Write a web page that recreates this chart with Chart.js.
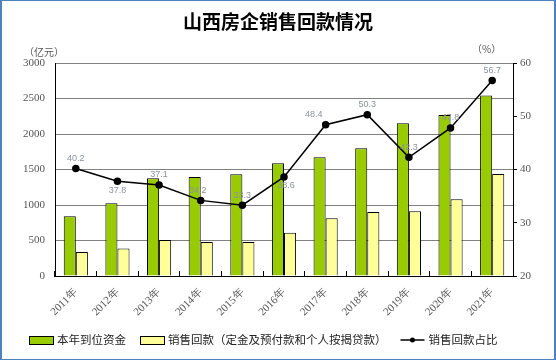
<!DOCTYPE html>
<html>
<head>
<meta charset="utf-8">
<script src="https://cdn.jsdelivr.net/npm/chart.js@4"></script>
<style>
	html, body { margin: 0; padding: 0; background: #fff; }
	#wrap { position: relative; width: 556px; height: 360px; }
	#frame { position: absolute; left: 0; top: 0; width: 556px; height: 360px; box-sizing: border-box;
		border: 1px solid #4f81bd; border-left-width: 2px; border-right-width: 2px; pointer-events: none; }
	canvas { position: absolute; left: 0; top: 0; }
</style>
</head>
<body>
<div id="wrap">
	<canvas id="salesChart" width="556" height="360"></canvas>
	<div id="frame"></div>
</div>
<script>

const years = ['2011年', '2012年', '2013年', '2014年', '2015年', '2016年', '2017年', '2018年', '2019年', '2020年', '2021年'];
const fundsInPlace = [842, 1025, 1377, 1396, 1434, 1589, 1673, 1800, 2153, 2266, 2542];
const salesReturns = [338, 388, 508, 478, 478, 610, 812, 902, 912, 1082, 1436];
const returnShare = [40.2, 37.8, 37.1, 34.2, 33.3, 38.6, 48.4, 50.3, 42.3, 47.8, 56.7];
const seriesNames = ['本年到位资金', '销售回款（定金及预付款和个人按揭贷款）', '销售回款占比'];

const titleText = '山西房企销售回款情况';
const leftUnit = '（亿元）';
const rightUnit = '（%）';

// value labels on the share line
const shareLabels = {
	id: 'shareLabels',
	afterDatasetsDraw(chart) {
		const ctx = chart.ctx;
		const meta = chart.getDatasetMeta(2);
		// 37.8 and 38.6 sit under their points, 48.4 is pushed to the left
		const below = [false, true, false, false, false, true, false, false, false, false, false];
		const shiftX = [0, 0, 0, -3, 0, 2, -12, 0, 0, 0, 0];
		ctx.save();
		ctx.font = '9px "Liberation Sans"';
		ctx.fillStyle = '#8c919b';
		ctx.textAlign = 'center';
		ctx.textBaseline = 'middle';
		meta.data.forEach((pt, i) => {
			let y = below[i] ? pt.y + 9 : pt.y - 10;
			ctx.fillText(returnShare[i].toFixed(1), pt.x + shiftX[i], y);
		});
		ctx.restore();
	}
};

// title, units and legend
const decorations = {
	id: 'decorations',
	afterDraw(chart) {
		const ctx = chart.ctx;
		ctx.save();

		ctx.fillStyle = '#000';
		ctx.font = 'bold 19px "Noto Sans CJK SC"';
		ctx.textAlign = 'center';
		ctx.textBaseline = 'middle';
		ctx.fillText(titleText, 278, 22);

		ctx.font = '10px "Noto Sans CJK SC"';
		ctx.fillStyle = '#555';
		ctx.textAlign = 'left';
		ctx.fillText(leftUnit, 24, 52);
		ctx.fillText(rightUnit, 472, 49);

		ctx.font = '11.5px "Noto Sans CJK SC"';
		ctx.fillStyle = '#222';
		ctx.textBaseline = 'middle';
		let x = 29;
		const y = 340;
		chart.data.datasets.forEach((ds) => {
			if (ds.type === 'line') {
				ctx.strokeStyle = ds.borderColor;
				ctx.lineWidth = 1.5;
				ctx.beginPath();
				ctx.moveTo(x, y);
				ctx.lineTo(x + 24, y);
				ctx.stroke();
				ctx.fillStyle = ds.pointBackgroundColor;
				ctx.beginPath();
				ctx.arc(x + 12, y, 2.5, 0, Math.PI * 2);
				ctx.fill();
			} else {
				ctx.fillStyle = ds.backgroundColor;
				ctx.fillRect(x, y - 4, 24, 8);
				ctx.strokeStyle = '#000';
				ctx.lineWidth = 1;
				ctx.strokeRect(x + 0.5, y - 3.5, 24, 8);
			}
			ctx.fillStyle = '#222';
			ctx.fillText(ds.label, x + 28, y);
			x += 28 + ctx.measureText(ds.label).width + 14;
		});

		ctx.restore();
	}
};

function addSalesChart() {

	let ctx = document.getElementById('salesChart').getContext('2d');
	let salesChart = new Chart(ctx, {
		type: 'bar',
		data: {
			labels: years,
			datasets: [{
				label: seriesNames[0],
				data: fundsInPlace,
				backgroundColor: '#99cc00',
				borderColor: '#000',
				borderWidth: 1,
				yAxisID: 'y',
				order: 2,
			}, {
				label: seriesNames[1],
				data: salesReturns,
				backgroundColor: '#ffff99',
				borderColor: '#000',
				borderWidth: 1,
				yAxisID: 'y',
				order: 2,
			}, {
				type: 'line',
				label: seriesNames[2],
				data: returnShare,
				borderColor: '#000',
				borderWidth: 1.5,
				pointBackgroundColor: '#000',
				pointBorderColor: '#000',
				pointRadius: 3,
				yAxisID: 'y1',
				order: 0,
			}],
		},
		options: {
			responsive: false,
			animation: false,
			categoryPercentage: 0.58,
			barPercentage: 1.0,
			layout: {
				padding: { top: 63, left: 0, right: 0, bottom: 44 },
			},
			plugins: {
				legend: { display: false },
				tooltip: { enabled: false },
			},
			scales: {
				x: {
					grid: { drawOnChartArea: false, drawTicks: true, tickLength: -5, color: '#000', offset: true },
					border: { color: '#000', width: 1 },
					ticks: {
						maxRotation: 45,
						minRotation: 45,
						padding: 15,
						color: '#555',
						font: { family: 'Liberation Serif', size: 11 },
					},
					afterFit: (s) => { s.height = 40; },
				},
				y: {
					position: 'left',
					min: 0,
					max: 3000,
					ticks: {
						stepSize: 500,
						padding: 10,
						color: '#555',
						font: { family: 'Liberation Serif', size: 11 },
						callback: (v) => String(v),
					},
					grid: { color: '#808080', drawTicks: false },
					border: { color: '#000', width: 1 },
					afterFit: (s) => { s.width = 55; },
				},
				y1: {
					position: 'right',
					min: 20,
					max: 60,
					ticks: {
						stepSize: 10,
						padding: 3,
						color: '#555',
						font: { family: 'Liberation Serif', size: 11 },
						callback: (v) => String(v),
					},
					grid: { drawOnChartArea: false, tickLength: 4, color: '#000' },
					border: { color: '#000', width: 1 },
					afterFit: (s) => { s.width = 43; },
				},
			},
		},
		plugins: [shareLabels, decorations],
	});

}

addSalesChart();

</script>
</body>
</html>
